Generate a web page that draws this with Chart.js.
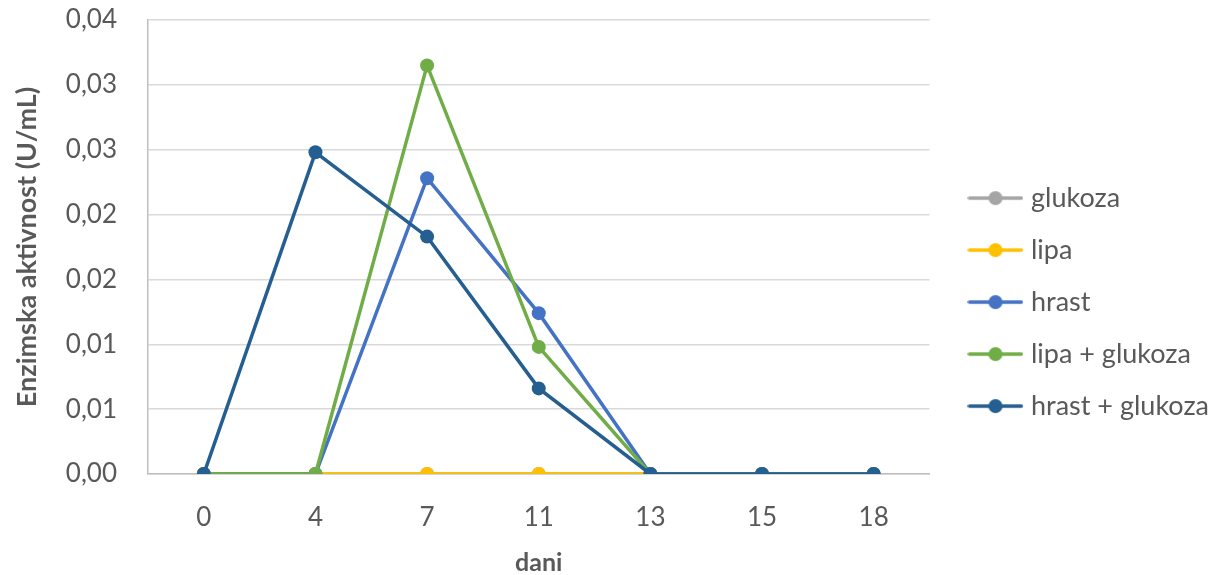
<!DOCTYPE html>
<html>
<head>
<meta charset="utf-8">
<script src="https://cdn.jsdelivr.net/npm/chart.js@4"></script>
<style>
  html, body { margin: 0; padding: 0; background: #ffffff; }
  #chart { display: block; }
</style>
</head>
<body>
<canvas id="chart" width="1215" height="575"></canvas>
<script>
(function(){
  'use strict';

  // days of sampling
  const days = ['0', '4', '7', '11', '13', '15', '18'];

  // enzyme activity (U/mL)
  const glukoza = [0, 0, 0, 0, 0, 0, 0];
  const lipa = [0, 0, 0, 0, 0, 0, 0];
  const hrast = [0, 0, 0.0228, 0.0124, 0, 0, 0];
  const lipaGlukoza = [0, 0, 0.0315, 0.0098, 0, 0, 0];
  const hrastGlukoza = [0, 0.0248, 0.0183, 0.0066, 0, 0, 0];

  const seriesNames = ['glukoza', 'lipa', 'hrast', 'lipa + glukoza', 'hrast + glukoza'];
  const seriesColors = ['#A5A5A5', '#FFC000', '#4472C4', '#70AD47', '#255E91'];

  // Excel rounds the 0.005 steps to two decimals
  const yTickLabels = ['0,00', '0,01', '0,01', '0,02', '0,02', '0,03', '0,03', '0,04'];

  const textColor = '#595959';
  const fontFamily = 'Lato, "Open Sans", sans-serif';

  function legendIcon(color) {
    const c = document.createElement('canvas');
    c.width = 56; c.height = 16;
    const g = c.getContext('2d');
    g.strokeStyle = color;
    g.lineWidth = 3.5;
    g.lineCap = 'round';
    g.beginPath();
    g.moveTo(2, 8); g.lineTo(54, 8);
    g.stroke();
    g.fillStyle = color;
    g.beginPath();
    g.arc(28, 8, 7, 0, Math.PI * 2);
    g.fill();
    return c;
  }

  const values = [glukoza, lipa, hrast, lipaGlukoza, hrastGlukoza];
  const icons = seriesColors.map(legendIcon);

  const datasets = values.map((v, i) => ({
    label: seriesNames[i],
    data: v,
    borderColor: seriesColors[i],
    backgroundColor: seriesColors[i],
    borderWidth: 3.5,
    pointRadius: 7,
    pointHoverRadius: 7,
    pointBorderWidth: 0,
    tension: 0,
    order: values.length - i   // later series on top, like Excel
  }));

  // leave a gap between the plot and the legend, like Excel does
  const legendGap = {
    id: 'legendGap',
    beforeLayout(chart) {
      const lg = chart.legend;
      if (!lg || lg._gapPatched) return;
      const fit = lg.fit;
      lg.fit = function() { fit.call(this); this.width += 15; };
      lg._gapPatched = true;
    },
    afterLayout(chart) {
      if (chart.legend) chart.legend.left += 19;
    }
  };

  const ctx = document.getElementById('chart').getContext('2d');
  new Chart(ctx, {
    type: 'line',
    data: { labels: days, datasets: datasets },
    plugins: [legendGap],
    options: {
      responsive: false,
      animation: false,
      layout: { padding: 0 },
      plugins: {
        tooltip: { enabled: false },
        legend: {
          position: 'right',
          title: { display: true, text: '', font: { size: 1 }, padding: { top: 0, bottom: 28 } },
          labels: {
            color: textColor,
            font: { family: fontFamily, size: 27 },
            usePointStyle: true,
            pointStyleWidth: 44,
            padding: 25,
            sort: (a, b) => a.datasetIndex - b.datasetIndex,
            generateLabels: (chart) => {
              const items = Chart.defaults.plugins.legend.labels.generateLabels(chart);
              items.forEach(it => { it.pointStyle = icons[it.datasetIndex]; });
              return items;
            }
          }
        }
      },
      scales: {
        x: {
          type: 'category',
          offset: true,
          grid: { display: false },
          border: { display: true, color: '#BFBFBF', width: 1.5 },
          ticks: {
            color: textColor,
            font: { family: fontFamily, size: 26 },
            padding: 20
          },
          title: {
            display: true,
            text: 'dani',
            color: textColor,
            font: { family: fontFamily, size: 25, weight: 'bold', lineHeight: 1 },
            padding: 0
          },
          afterFit: (scale) => { scale.height = 101; }
        },
        y: {
          min: 0,
          max: 0.035,
          ticks: {
            stepSize: 0.005,
            color: textColor,
            font: { family: fontFamily, size: 26 },
            padding: 31,
            callback: (v, i) => yTickLabels[i]
          },
          grid: { color: '#D9D9D9', lineWidth: 1.5, drawTicks: false },
          border: { display: true, color: '#BFBFBF', width: 1.5 },
          title: {
            display: true,
            text: 'Enzimska aktivnost (U/mL)',
            color: textColor,
            font: { family: fontFamily, size: 27, weight: 'bold' },
            padding: { top: 11, bottom: 0 }
          },
          afterFit: (scale) => {
            scale.width = 148;
            scale.paddingTop = 20;
            scale.paddingBottom = 0;
          }
        }
      }
    }
  });
})();
</script>
</body>
</html>
